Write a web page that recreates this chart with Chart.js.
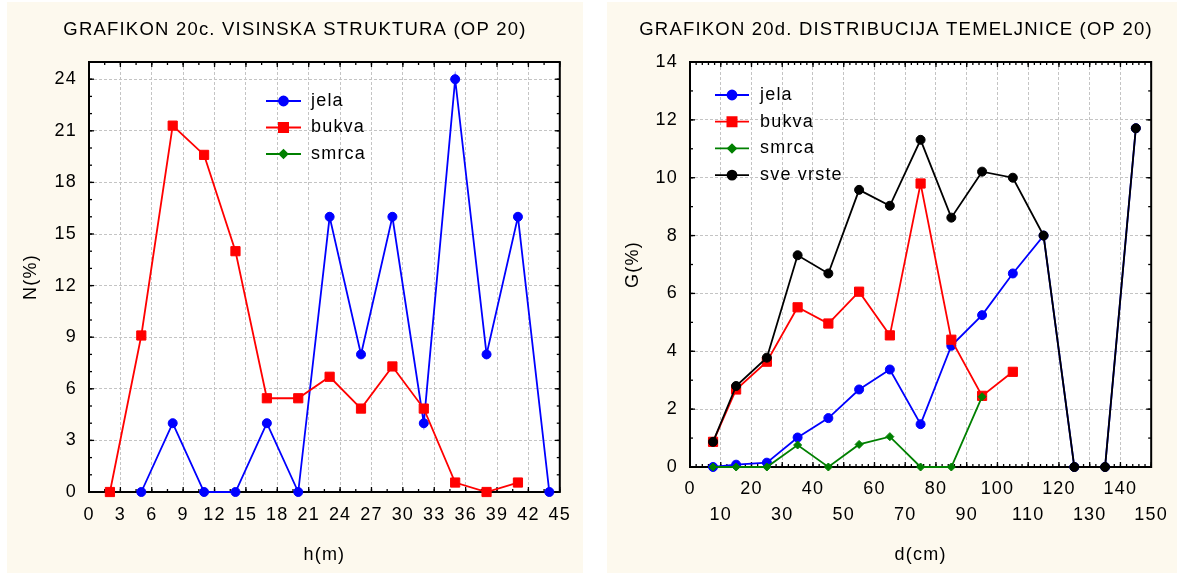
<!DOCTYPE html>
<html><head><meta charset="utf-8">
<script src="https://cdn.jsdelivr.net/npm/chart.js@4.4.0/dist/chart.umd.min.js"></script>
<style>
html,body{margin:0;padding:0;background:#fff;}
body{width:1177px;height:573px;position:relative;overflow:hidden;}
canvas{position:absolute;top:2px;background:#fdf9ee;}
#c1{left:7px;}
#c2{left:607px;}
</style></head><body>
<canvas id="c1" width="576" height="571"></canvas>
<canvas id="c2" width="570" height="571"></canvas>
<script>
// ---------- DATA ----------
// Chart 20c: height structure
const hTitle = 'GRAFIKON 20c. VISINSKA STRUKTURA (OP 20)';
const hClasses = [2, 5, 8, 11, 14, 17, 20, 23, 26, 29, 32, 35, 38, 41, 44];
const hJela  = [null, 0, 4, 0, 0, 4, 0, 16, 8, 16, 4, 24, 8, 16, 0];
const hBukva = [0, 9.1, 21.3, 19.6, 14.0, 5.45, 5.45, 6.7, 4.85, 7.3, 4.85, 0.55, 0, 0.55, null];
const hSmrca = [null, null, null, null, null, null, null, null, null, null, null, null, null, null, null];

// Chart 20d: basal area distribution
const dTitle = 'GRAFIKON 20d. DISTRIBUCIJA TEMELJNICE (OP 20)';
const dClasses = [7.5, 15, 25, 35, 45, 55, 65, 75, 85, 95, 105, 115, 125, 135, 145];
const dJela  = [0, 0.08, 0.15, 1.02, 1.69, 2.68, 3.37, 1.48, 4.19, 5.25, 6.69, 8.0, 0, 0, 11.71];
const dBukva = [0.87, 2.68, 3.64, 5.52, 4.96, 6.06, 4.55, 9.80, 4.40, 2.46, 3.29, null, null, null, null];
const dSmrca = [0, 0, 0, 0.76, 0, 0.78, 1.05, 0, 0, 2.43, null, null, null, null, null];
const dSve   = [0.87, 2.80, 3.78, 7.32, 6.69, 9.58, 9.03, 11.31, 8.62, 10.21, 10.0, 8.0, 0, 0, 11.71];

const seriesNames = ['jela', 'bukva', 'smrca', 'sve vrste'];
const hYTicksMax = 25, hYStep = 3, hXMax = 45, hXStep = 3;
const dYTicksMax = 14, dYStep = 2, dXMax = 150, dXStep = 10;

// ---------- STYLE ----------
const FONT = "'Liberation Sans', Arial, sans-serif";
Chart.defaults.font.family = FONT;
Chart.defaults.color = '#000';

const styles = {
  'jela':      {color: '#0000ff', pointStyle: 'circle',  radius: 4.5},
  'bukva':     {color: '#ff0000', pointStyle: 'rect',    radius: 6.5},
  'smrca':     {color: '#008000', pointStyle: 'rectRot', radius: 4},
  'sve vrste': {color: '#000000', pointStyle: 'circle',  radius: 4.5}
};

function pts(xs, ys) {
  const out = [];
  xs.forEach((x, i) => { if (ys[i] !== null && ys[i] !== undefined) out.push({x: x, y: ys[i]}); });
  return out;
}
function ds(name, xs, ys, order) {
  const s = styles[name];
  return {
    label: name, data: pts(xs, ys), order: order,
    borderColor: s.color, backgroundColor: s.color,
    borderWidth: 1.8, pointStyle: s.pointStyle, pointRadius: s.radius,
    pointBorderWidth: 1, pointBackgroundColor: s.color, pointBorderColor: s.color,
    tension: 0, clip: false
  };
}

const spacingPlugin = {
  id: 'spacing',
  beforeInit(chart) { chart.ctx.letterSpacing = '1.2px'; },
  beforeUpdate(chart) { chart.ctx.letterSpacing = '1.2px'; },
  beforeDraw(chart) { chart.ctx.letterSpacing = '1.2px'; }
};

const framePlugin = {
  id: 'frame',
  beforeDraw(chart) {
    const {ctx, chartArea: a} = chart;
    ctx.save();
    ctx.fillStyle = '#ffffff';
    ctx.fillRect(a.left, a.top, a.right - a.left, a.bottom - a.top);
    ctx.restore();
  },
  beforeDatasetsDraw(chart, args, opts) {
    const {ctx, chartArea: a, scales} = chart;
    const xs = scales.x, ys = scales.y;
    ctx.save();
    ctx.strokeStyle = '#000';
    ctx.lineWidth = 1.3;
    const seg = (x1, y1, x2, y2) => { ctx.beginPath(); ctx.moveTo(x1, y1); ctx.lineTo(x2, y2); ctx.stroke(); };
    const xTicks = (step, len) => {
      for (let v = xs.min; v <= xs.max + 1e-9; v += step) {
        const p = xs.getPixelForValue(v);
        seg(p, a.bottom, p, a.bottom - len); seg(p, a.top, p, a.top + len);
      }
    };
    const yTicks = (step, len) => {
      for (let v = ys.min; v <= ys.max + 1e-9; v += step) {
        const p = ys.getPixelForValue(v);
        seg(a.left, p, a.left + len, p); seg(a.right, p, a.right - len, p);
      }
    };
    xTicks(opts.xMinor, 3); xTicks(opts.xMajor, 5);
    yTicks(opts.yMinor, 3); yTicks(opts.yMajor, 5);
    ctx.lineWidth = 2;
    ctx.strokeRect(a.left, a.top, a.right - a.left, a.bottom - a.top);
    ctx.restore();
  }
};

const legendPlugin = {
  id: 'customLegend',
  afterDraw(chart, args, opts) {
    const ctx = chart.ctx;
    ctx.save();
    ctx.letterSpacing = '1.2px';
    opts.items.forEach((name, i) => {
      const s = styles[name];
      const y = opts.y0 + i * opts.dy;
      ctx.strokeStyle = s.color; ctx.fillStyle = s.color; ctx.lineWidth = 1.8;
      ctx.beginPath(); ctx.moveTo(opts.x1, y); ctx.lineTo(opts.x2, y); ctx.stroke();
      Chart.helpers.drawPoint(ctx, {pointStyle: s.pointStyle, radius: s.radius, rotation: 0, borderWidth: 1}, (opts.x1 + opts.x2) / 2, y);
      ctx.fillStyle = '#000';
      ctx.font = '18px ' + FONT;
      ctx.textBaseline = 'middle'; ctx.textAlign = 'left';
      ctx.fillText(name, opts.tx, y);
    });
    ctx.restore();
  }
};

function makeChart(canvasId, cfg) {
  return new Chart(document.getElementById(canvasId), {
    type: 'line',
    data: {datasets: cfg.datasets},
    plugins: [spacingPlugin, framePlugin, legendPlugin],
    options: {
      responsive: false, animation: false, events: [],
      devicePixelRatio: 1,
      layout: {padding: {left: cfg.padLeft, right: 0, top: 0, bottom: 0}},
      plugins: {
        legend: {display: false}, tooltip: {enabled: false},
        title: {display: true, text: cfg.title, color: '#000',
                font: {size: 18.5, weight: 'normal', lineHeight: 1.2},
                padding: {top: 16.9, bottom: 20.9}},
        frame: cfg.frame,
        customLegend: cfg.legend
      },
      scales: {
        x: {
          type: 'linear', position: 'bottom', min: 0, max: cfg.xMax,
          grid: {color: '#c4c4c4', lineWidth: 1, drawTicks: false},
          border: {display: false, dash: [3, 2]},
          ticks: {stepSize: cfg.xStep, autoSkip: false, maxRotation: 0, padding: cfg.xTickPad,
                  font: {size: 18, lineHeight: cfg.xTickLH}, color: '#000',
                  callback: cfg.xCallback},
          title: {display: true, text: cfg.xTitle, font: {size: 18, lineHeight: 1.2}, color: '#000', padding: {top: 0, bottom: 7}},
          afterFit(s) { s.height = cfg.xHeight; }
        },
        y: {
          type: 'linear', position: 'left', min: 0, max: cfg.yMax,
          grid: {color: '#c4c4c4', lineWidth: 1, drawTicks: false},
          border: {display: false, dash: [3, 2]},
          ticks: {stepSize: cfg.yStep, includeBounds: false, padding: 12, font: {size: 18}, color: '#000'},
          title: {display: true, text: cfg.yTitle, font: {size: 18, lineHeight: 1.2}, color: '#000', padding: {top: cfg.yTitlePad, bottom: 0}},
          afterFit(s) { s.width = cfg.yWidth; }
        },
        yR: {
          type: 'linear', position: 'right', display: true,
          grid: {display: false}, border: {display: false},
          ticks: {display: false}, title: {display: false},
          afterFit(s) { s.width = cfg.rightWidth; }
        }
      }
    }
  });
}

// Left chart
makeChart('c1', {
  title: hTitle,
  datasets: [
    ds('jela', hClasses, hJela, 3),
    ds('bukva', hClasses, hBukva, 2),
    ds('smrca', hClasses, hSmrca, 1)
  ],
  padLeft: 0, yWidth: 82, rightWidth: 18, xHeight: 81,
  xMax: hXMax, xStep: hXStep, yMax: hYTicksMax, yStep: hYStep,
  xTickPad: 12, xTickLH: 1.2, xCallback: (v) => String(v),
  xTitle: 'h(m)', yTitle: 'N(%)', yTitlePad: 13.2,
  frame: {xMajor: 3, xMinor: 1.5, yMajor: 3, yMinor: 1},
  legend: {items: ['jela', 'bukva', 'smrca'], x1: 259, x2: 294, tx: 304, y0: 99, dy: 26.5}
});

// Right chart
makeChart('c2', {
  title: dTitle,
  datasets: [
    ds('jela', dClasses, dJela, 3),
    ds('bukva', dClasses, dBukva, 2),
    ds('smrca', dClasses, dSmrca, 1),
    ds('sve vrste', dClasses, dSve, 0)
  ],
  padLeft: 8, yWidth: 75, rightWidth: 17, xHeight: 106,
  xMax: dXMax, xStep: dXStep, yMax: dYTicksMax, yStep: dYStep,
  xTickPad: 9, xTickLH: 26 / 18,
  xCallback: (v) => (Math.round(v) % 20 === 0 ? String(v) : ['', String(v)]),
  xTitle: 'd(cm)', yTitle: 'G(%)', yTitlePad: 7.2,
  frame: {xMajor: 10, xMinor: 2, yMajor: 2, yMinor: 1},
  legend: {items: ['jela', 'bukva', 'smrca', 'sve vrste'], x1: 108, x2: 142, tx: 153, y0: 93, dy: 26.7}
});
</script>
</body></html>
